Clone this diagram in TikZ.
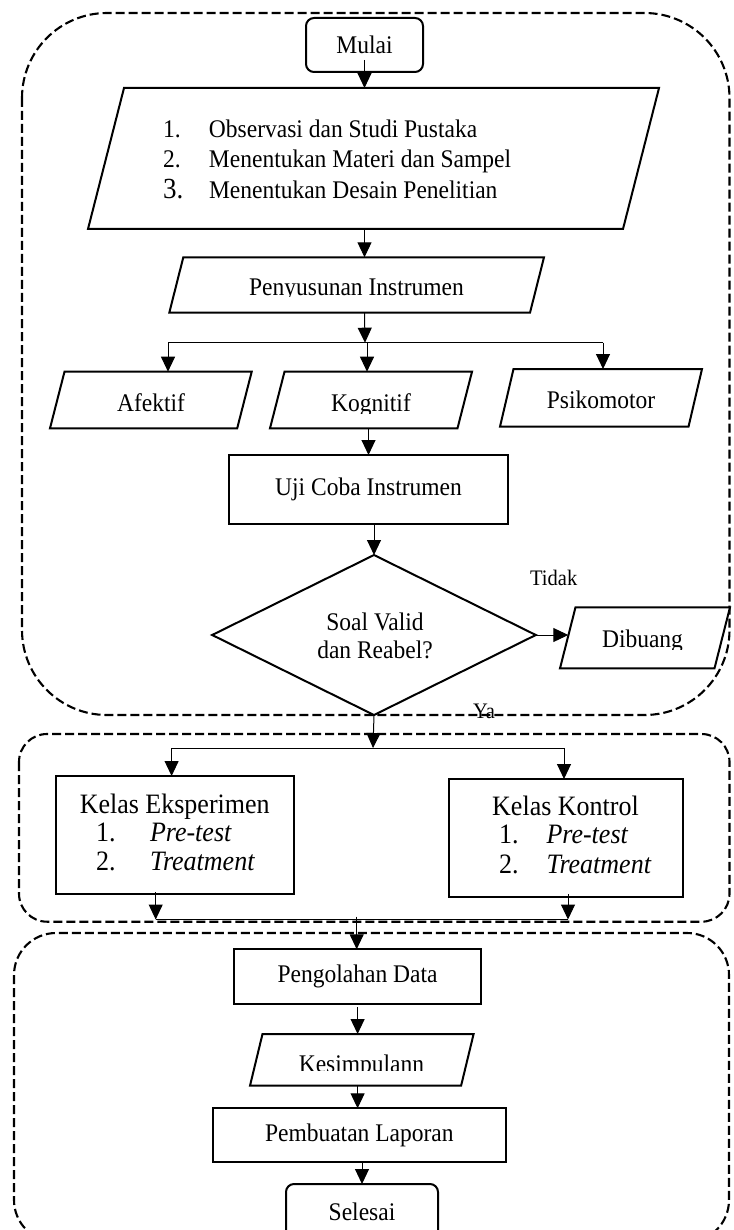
\documentclass[tikz,border=0pt]{standalone}
\usepackage{fontspec}
\usepackage{graphicx}
\setmainfont{Liberation Serif}
\usetikzlibrary{shapes.geometric,arrows.meta}
\newcommand\fsN{\fontsize{23.5}{28}\selectfont}
\newcommand\fsK{\fontsize{26}{30}\selectfont}
\newcommand\fsS{\fontsize{20.5}{24}\selectfont}
\newcommand\fsB{\fontsize{27}{30}\selectfont}
\newcommand\vs[1]{\scalebox{1}[1.08]{#1}}
\begin{document}
\begin{tikzpicture}[x=1pt,y=-1pt,
  every node/.style={inner sep=0pt, outer sep=0pt, font=\fsN},
  box/.style={draw, fill=white, line width=2pt, rectangle},
  term/.style={draw, fill=white, line width=2pt, rectangle, rounded corners=8pt},
  pbox/.style={rectangle},
  pshape/.style={draw, fill=white, line width=2pt, line join=miter},
  decision/.style={draw, fill=white, line width=2pt, diamond},
  txt/.style={anchor=base},
  txtl/.style={anchor=base west},
  small/.style={anchor=base, font=\fsS},
  dashbox/.style={line width=2.1pt, dash pattern=on 9pt off 4pt},
  conn/.style={line width=1pt},
  arr/.style={line width=1pt, -{Triangle[length=15pt,width=14pt]}}
]
\useasboundingbox (0,0) rectangle (733,1230);
\clip (0,0) rectangle (733,1230);

% dashed groups
\draw[dashbox, rounded corners=85pt] (22,13) rectangle (729.5,715);
\draw[dashbox, rounded corners=28pt] (19,734) rectangle (729.5,921.7);
\draw[dashbox, rounded corners=42pt] (14,933) rectangle (729,1242);

% shapes
\node[term, minimum width=117pt, minimum height=54pt] (mulai) at (364.5,45) {\vs{Mulai}};

\node[pbox, minimum width=571pt, minimum height=141pt] (p1) at (373.5,158.5) {};
\draw[pshape] ([xshift=36pt]p1.north west) -- (p1.north east) -- ([xshift=-36pt]p1.south east) -- (p1.south west) -- cycle;

\node[pbox, minimum width=374.7pt, minimum height=55.4pt] (pen) at (356.65,285) {};
\draw[pshape] ([xshift=14pt]pen.north west) -- (pen.north east) -- ([xshift=-14pt]pen.south east) -- (pen.south west) -- cycle;

\node[pbox, minimum width=201.7pt, minimum height=56.6pt] (afek) at (150.85,400) {};
\draw[pshape] ([xshift=14.5pt]afek.north west) -- (afek.north east) -- ([xshift=-14.5pt]afek.south east) -- (afek.south west) -- cycle;

\node[pbox, minimum width=202pt, minimum height=56.6pt] (kog) at (371,400) {};
\draw[pshape] ([xshift=14.5pt]kog.north west) -- (kog.north east) -- ([xshift=-14.5pt]kog.south east) -- (kog.south west) -- cycle;

\node[pbox, minimum width=202pt, minimum height=57.7pt] (psi) at (601,397.85) {};
\draw[pshape] ([xshift=13.5pt]psi.north west) -- (psi.north east) -- ([xshift=-13.5pt]psi.south east) -- (psi.south west) -- cycle;

\node[box, minimum width=279pt, minimum height=69pt] (uji) at (368.5,489.5) {\vs{Uji Coba Instrumen}};
\node[decision, minimum width=323.6pt, minimum height=160pt] (dia) at (374,635) {};

\node[pbox, minimum width=170pt, minimum height=61pt] (dib) at (645,637.8) {};
\draw[pshape] ([xshift=15.5pt]dib.north west) -- (dib.north east) -- ([xshift=-15.5pt]dib.south east) -- (dib.south west) -- cycle;

\node[box, minimum width=237.6pt, minimum height=118pt] (kelE) at (174.8,835) {};
\node[box, minimum width=233.4pt, minimum height=117.7pt] (kelK) at (566,837.85) {};
\node[box, minimum width=247.7pt, minimum height=55pt] (peng) at (357.6,976.8) {\vs{Pengolahan Data}};

\node[pbox, minimum width=223.6pt, minimum height=51.7pt] (kes) at (361.8,1059.85) {};
\draw[pshape] ([xshift=12.5pt]kes.north west) -- (kes.north east) -- ([xshift=-12.5pt]kes.south east) -- (kes.south west) -- cycle;

\node[box, minimum width=293.3pt, minimum height=53.4pt] (pemb) at (359.3,1135) {\vs{Pembuatan Laporan}};
\node[term, minimum width=152pt, minimum height=56pt] (sel) at (362,1212) {\vs{Selesai}};

% texts
\node[txtl] (t1) at (163,138) {\vs{\makebox[46pt][l]{1.}Observasi dan Studi Pustaka}};
\node[txtl] (t2) at (163,168) {\vs{\makebox[46pt][l]{2.}Menentukan Materi dan Sampel}};
\node[txtl] (t3) at (163,199) {\vs{\makebox[46pt][l]{\fsB 3.}Menentukan Desain Penelitian}};
\begin{scope}
  \clip (180,262) rectangle (540,297);
  \node[txt] (tpen) at (356.5,295) {\vs{Penyusunan Instrumen}};
\end{scope}
\node[txt] (tafek) at (151,411) {\vs{Afektif}};
\begin{scope}
  \clip (280,375) rectangle (460,413);
  \node[txt] (tkog) at (371,411) {\vs{Kognitif}};
\end{scope}
\node[txt] (tpsi) at (601,408) {\vs{Psikomotor}};
\node[txt] (tso1) at (375,630) {\vs{Soal Valid}};
\node[txt] (tso2) at (375,658) {\vs{dan Reabel?}};
\begin{scope}
  \clip (580,612) rectangle (715,649.5);
  \node[txt] (tdib) at (642.5,647.3) {\vs{Dibuang}};
\end{scope}
\node[small] (tidak) at (553.7,585) {\vs{Tidak}};
\node[small] (ya) at (484,718) {\vs{Ya}};
\node[txt, font=\fsK] (tke) at (174.7,813) {\vs{Kelas Eksperimen}};
\node[txtl, font=\fsK] (tke1) at (96,841) {\vs{\makebox[54pt][l]{1.}\textit{Pre-test}}};
\node[txtl, font=\fsK] (tke2) at (96,870) {\vs{\makebox[54pt][l]{2.}\textit{Treatment}}};
\node[txt, font=\fsK] (tkk) at (565.5,815) {\vs{Kelas Kontrol}};
\node[txtl, font=\fsK] (tkk1) at (499,843) {\vs{\makebox[47.5pt][l]{1.}\textit{Pre-test}}};
\node[txtl, font=\fsK] (tkk2) at (499,873) {\vs{\makebox[47.5pt][l]{2.}\textit{Treatment}}};
\begin{scope}
  \clip (260,1040) rectangle (465,1070);
  \node[txt] (tkes) at (361.5,1072.5) {\vs{Kesimpulann}};
\end{scope}

% junction points
\coordinate (j1) at (365,342.7);
\coordinate (ja) at (168,342.7);
\coordinate (jk) at (367,342.7);
\coordinate (jp) at (603,342.7);
\coordinate (j2) at (373,748);
\coordinate (je) at (171.6,748);
\coordinate (jr) at (564,748);
\coordinate (jb1) at (155.7,919.5);
\coordinate (jb2) at (568,919.5);
\coordinate (jm) at (356.7,919.5);

% connectors
\draw[arr] ([yshift=12pt]mulai.south) -- (mulai.south |- p1.north);
\draw[arr] (mulai |- p1.south) -- (mulai |- pen.north);
\draw[arr] (mulai |- pen.south) -- (j1);
\draw[conn] (ja) -- (jp);
\draw[arr] (ja) -- (ja |- afek.north);
\draw[arr] (jk) -- (jk |- kog.north);
\draw[arr] (jp) -- (jp |- psi.north);
\draw[arr] (uji.center |- kog.south) -- (uji.north);
\draw[arr] (dia |- uji.south) -- (dia.north);
\draw[arr] (dia.east) -- ([xshift=8.3pt]dia.east -| dib.west);
\draw[arr] (dia.south) -- (j2);
\draw[conn] (je) -- (jr);
\draw[arr] (je) -- (je |- kelE.north);
\draw[arr] (jr) -- (jr |- kelK.north);
\draw[arr] ([yshift=2pt]kelE.south -| jb1) -- (jb1);
\draw[arr] ([yshift=2.5pt]kelK.south -| jb2) -- (jb2);
\draw[conn] (jb1) -- (jb2);
\draw[arr] ([yshift=3pt]jm) -- (jm |- peng.north);
\draw[arr] ([yshift=-3pt]peng.south) -- (peng.south |- kes.north);
\draw[arr] (peng.south |- kes.south) -- (peng.south |- pemb.north);
\draw[arr] (sel.north |- pemb.south) -- (sel.north);
\end{tikzpicture}
\end{document}
